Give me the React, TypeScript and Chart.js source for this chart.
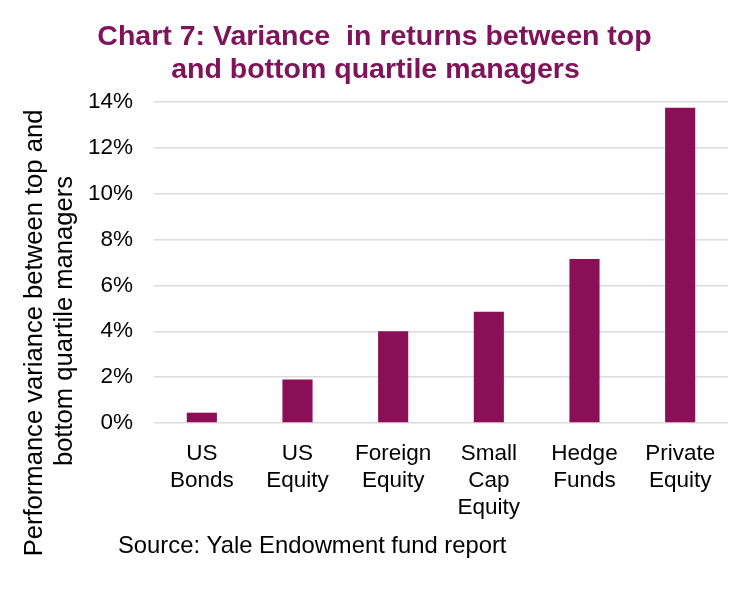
import React, { useEffect, useRef } from "react";
import { Chart, registerables } from "chart.js";

Chart.register(...registerables);

const categories: string[][] = [
  ["US", "Bonds"],
  ["US", "Equity"],
  ["Foreign", "Equity"],
  ["Small", "Cap", "Equity"],
  ["Hedge", "Funds"],
  ["Private", "Equity"],
];
const variance: number[] = [0.45, 1.9, 4.0, 4.85, 7.15, 13.75];
const yMin = 0;
const yMax = 14;
const yStep = 2;

const titleLines = ["Chart 7: Variance  in returns between top", "and bottom quartile managers"];
const yTitleLines = ["Performance variance between top and", "bottom quartile managers"];
const sourceText = "Source: Yale Endowment fund report";

const FONT = "'Liberation Sans', Arial, Helvetica, sans-serif";
const TITLE_COLOR = "#80145A";
const BAR_COLOR = "#8B0F57";

const textPlugin = {
  id: "customTexts",
  afterDraw(chart: any) {
    const ctx = chart.ctx as CanvasRenderingContext2D;
    ctx.save();
    // title
    ctx.fillStyle = TITLE_COLOR;
    ctx.font = `bold 28.5px ${FONT}`;
    ctx.textAlign = "center";
    ctx.textBaseline = "alphabetic";
    ctx.fillText(titleLines[0], 374.5, 45);
    ctx.fillText(titleLines[1], 375.5, 78);
    // y axis title
    ctx.fillStyle = "#000";
    ctx.font = `25.6px ${FONT}`;
    ctx.save();
    ctx.translate(42, 333);
    ctx.rotate(-Math.PI / 2);
    ctx.textAlign = "center";
    ctx.fillText(yTitleLines[0], 0, 0);
    ctx.restore();
    ctx.save();
    ctx.translate(72, 321);
    ctx.rotate(-Math.PI / 2);
    ctx.textAlign = "center";
    ctx.fillText(yTitleLines[1], 0, 0);
    ctx.restore();
    // source
    ctx.font = `23.8px ${FONT}`;
    ctx.textAlign = "left";
    ctx.fillText(sourceText, 118, 553);
    ctx.restore();
  },
};

export default function App() {
  const ref = useRef<HTMLCanvasElement | null>(null);
  useEffect(() => {
    if (!ref.current) return;
    const chart = new Chart(ref.current, {
      type: "bar",
      data: {
        labels: categories,
        datasets: [
          {
            data: variance,
            backgroundColor: BAR_COLOR,
            borderWidth: 0,
            barPercentage: 0.315,
            categoryPercentage: 1,
          },
        ],
      },
      options: {
        animation: false,
        responsive: false,
        devicePixelRatio: 1,
        layout: { padding: { left: 0, top: 102, right: 22, bottom: 0 } },
        plugins: {
          legend: { display: false },
          title: { display: false },
          tooltip: { enabled: false },
        },
        scales: {
          x: {
            grid: { display: false, drawTicks: false },
            border: { display: false },
            ticks: {
              color: "#000",
              font: { family: FONT, size: 22.5, lineHeight: 1.2 },
              padding: 17,
              maxRotation: 0,
              autoSkip: false,
            },
            afterFit: (s: any) => {
              s.height = 189;
            },
          },
          y: {
            min: yMin,
            max: yMax,
            grid: { color: "#dcdcdc", lineWidth: 1.5, drawTicks: false },
            border: { display: false },
            ticks: {
              stepSize: yStep,
              color: "#000",
              font: { family: FONT, size: 22.5 },
              padding: 21,
              callback: (v: any) => `${v}%`,
            },
            afterFit: (s: any) => {
              s.width = 154;
            },
          },
        },
      },
      plugins: [textPlugin],
    });
    return () => chart.destroy();
  }, []);
  return (
    <div style={{ position: "absolute", left: 0, top: 0, width: 750, height: 612, background: "#fff" }}>
      <canvas ref={ref} width={750} height={612} style={{ display: "block" }} />
    </div>
  );
}
